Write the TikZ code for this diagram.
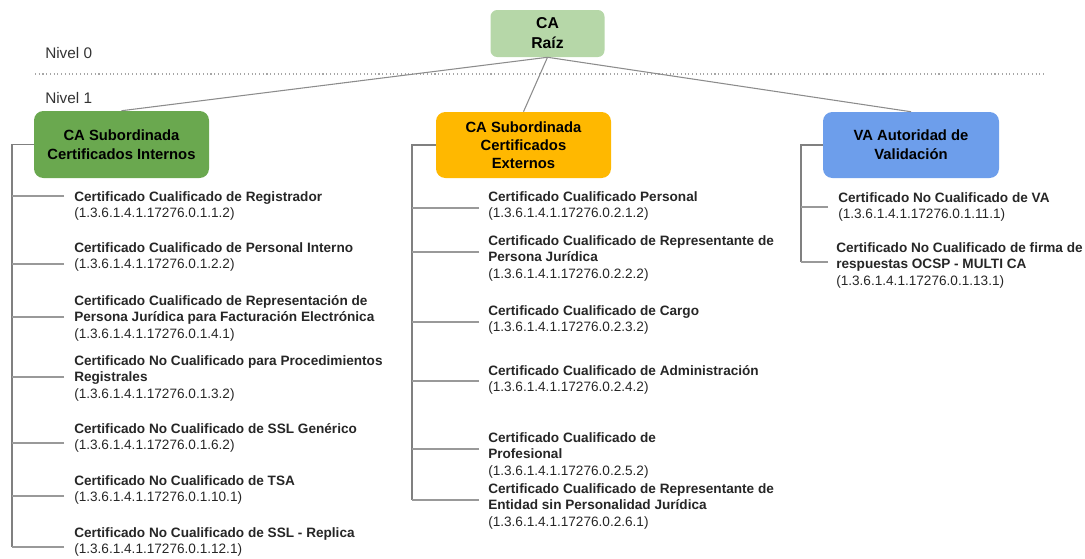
\documentclass[tikz,border=0pt]{standalone}
\usepackage{fontspec}
\setmainfont{Liberation Sans}
\begin{document}
\begin{tikzpicture}[x=0.75pt,y=-0.75pt,
  box/.style={rounded corners=7pt,minimum width=175*0.75pt,minimum height=66*0.75pt,align=center,inner sep=0pt,
    font={\fontsize{11.1}{14.2}\selectfont\bfseries},text=black},
  item/.style={anchor=north west,align=left,inner sep=0pt,text=black!85,
    font={\fontsize{10.2}{12.4}\selectfont}},
  lvl/.style={anchor=west,inner sep=0pt,text=black!80,font={\fontsize{11.5}{14}\selectfont}},
  rootconn/.style={draw=black!45,line width=0.8pt},
  trunk/.style={draw=black!50,line width=1.2pt},
  branch/.style={draw=black!40,line width=0.8pt}]
\useasboundingbox (0,0) rectangle (1085,558);
% levels
\node[lvl] (n0) at (45,53) {Nivel 0};
\node[lvl] (n1) at (45,98) {Nivel 1};
\coordinate (dl) at (35,74);
\coordinate (dr) at (1045,74);
\draw[black!35,dotted,line width=0.8pt] (dl) -- (dr);
% boxes
\node[box,fill={rgb,255:red,182;green,215;blue,168},minimum width=114*0.75pt,minimum height=47*0.75pt,rounded corners=5pt,
  font={\fontsize{11.8}{15}\selectfont\bfseries}] (root) at (547.5,33.5) {CA\\Raíz};
\node[box,fill={rgb,255:red,106;green,168;blue,79},minimum height=67*0.75pt] (green) at (121.5,144.5) {CA Subordinada\\Certificados Internos};
\node[box,fill={rgb,255:red,255;green,184;blue,0},font={\fontsize{11.1}{13.5}\selectfont\bfseries}] (orange) at (523.5,145) {CA Subordinada\\Certificados\\Externos};
\node[box,fill={rgb,255:red,109;green,158;blue,235},minimum width=176*0.75pt] (blue) at (911,145) {VA Autoridad de\\Validación};
\draw[rootconn] (root.south) -- (green.north);
\draw[rootconn] (root.south) -- (orange.north);
\draw[rootconn] (root.south) -- (blue.north);
% left column
\node[item] (L1) at (74,191) {\textbf{Certificado Cualificado de Registrador}\\(1.3.6.1.4.1.17276.0.1.1.2)};
\node[item] (L2) at (74,242) {\textbf{Certificado Cualificado de Personal Interno}\\(1.3.6.1.4.1.17276.0.1.2.2)};
\node[item] (L3) at (74,295) {\textbf{Certificado Cualificado de Representación de}\\\textbf{Persona Jurídica para Facturación Electrónica}\\(1.3.6.1.4.1.17276.0.1.4.1)};
\node[item] (L4) at (74,355) {\textbf{Certificado No Cualificado para Procedimientos}\\\textbf{Registrales}\\(1.3.6.1.4.1.17276.0.1.3.2)};
\node[item] (L5) at (74,423) {\textbf{Certificado No Cualificado de SSL Genérico}\\(1.3.6.1.4.1.17276.0.1.6.2)};
\node[item] (L6) at (74,475) {\textbf{Certificado No Cualificado de TSA}\\(1.3.6.1.4.1.17276.0.1.10.1)};
\node[item] (L7) at (74,527) {\textbf{Certificado No Cualificado de SSL - Replica}\\(1.3.6.1.4.1.17276.0.1.12.1)};
\coordinate (tL) at (12,547);
\draw[trunk] (green.west) -| (tL);
\foreach \n/\y in {L1/196,L2/264,L3/317,L4/377,L5/443,L6/496,L7/547}{
  \coordinate (e\n) at (64,\y);
  \draw[branch] (e\n) -- (e\n -| tL);
}
% middle column
\node[item] (M1) at (488,191) {\textbf{Certificado Cualificado Personal}\\(1.3.6.1.4.1.17276.0.2.1.2)};
\node[item] (M2) at (488,235) {\textbf{Certificado Cualificado de Representante de}\\\textbf{Persona Jurídica}\\(1.3.6.1.4.1.17276.0.2.2.2)};
\node[item] (M3) at (488,305) {\textbf{Certificado Cualificado de Cargo}\\(1.3.6.1.4.1.17276.0.2.3.2)};
\node[item] (M4) at (488,365) {\textbf{Certificado Cualificado de Administración}\\(1.3.6.1.4.1.17276.0.2.4.2)};
\node[item] (M5) at (488,432) {\textbf{Certificado Cualificado de}\\\textbf{Profesional}\\(1.3.6.1.4.1.17276.0.2.5.2)};
\node[item] (M6) at (488,483) {\textbf{Certificado Cualificado de Representante de}\\\textbf{Entidad sin Personalidad Jurídica}\\(1.3.6.1.4.1.17276.0.2.6.1)};
\coordinate (tM) at (412,500);
\draw[trunk] (orange.west) -| (tM);
\foreach \n/\y in {M1/208,M2/252,M3/322,M4/381,M5/449,M6/500}{
  \coordinate (e\n) at (479,\y);
  \draw[branch] (e\n) -- (e\n -| tM);
}
% right column
\node[item] (R1) at (838,192) {\textbf{Certificado No Cualificado de VA}\\(1.3.6.1.4.1.17276.0.1.11.1)};
\node[item] (R2) at (836,242) {\textbf{Certificado No Cualificado de firma de}\\\textbf{respuestas OCSP - MULTI CA}\\(1.3.6.1.4.1.17276.0.1.13.1)};
\coordinate (tR) at (801,262);
\draw[trunk] (blue.west) -| (tR);
\foreach \n/\y in {R1/207,R2/262}{
  \coordinate (e\n) at (828,\y);
  \draw[branch] (e\n) -- (e\n -| tR);
}
\end{tikzpicture}
\end{document}
